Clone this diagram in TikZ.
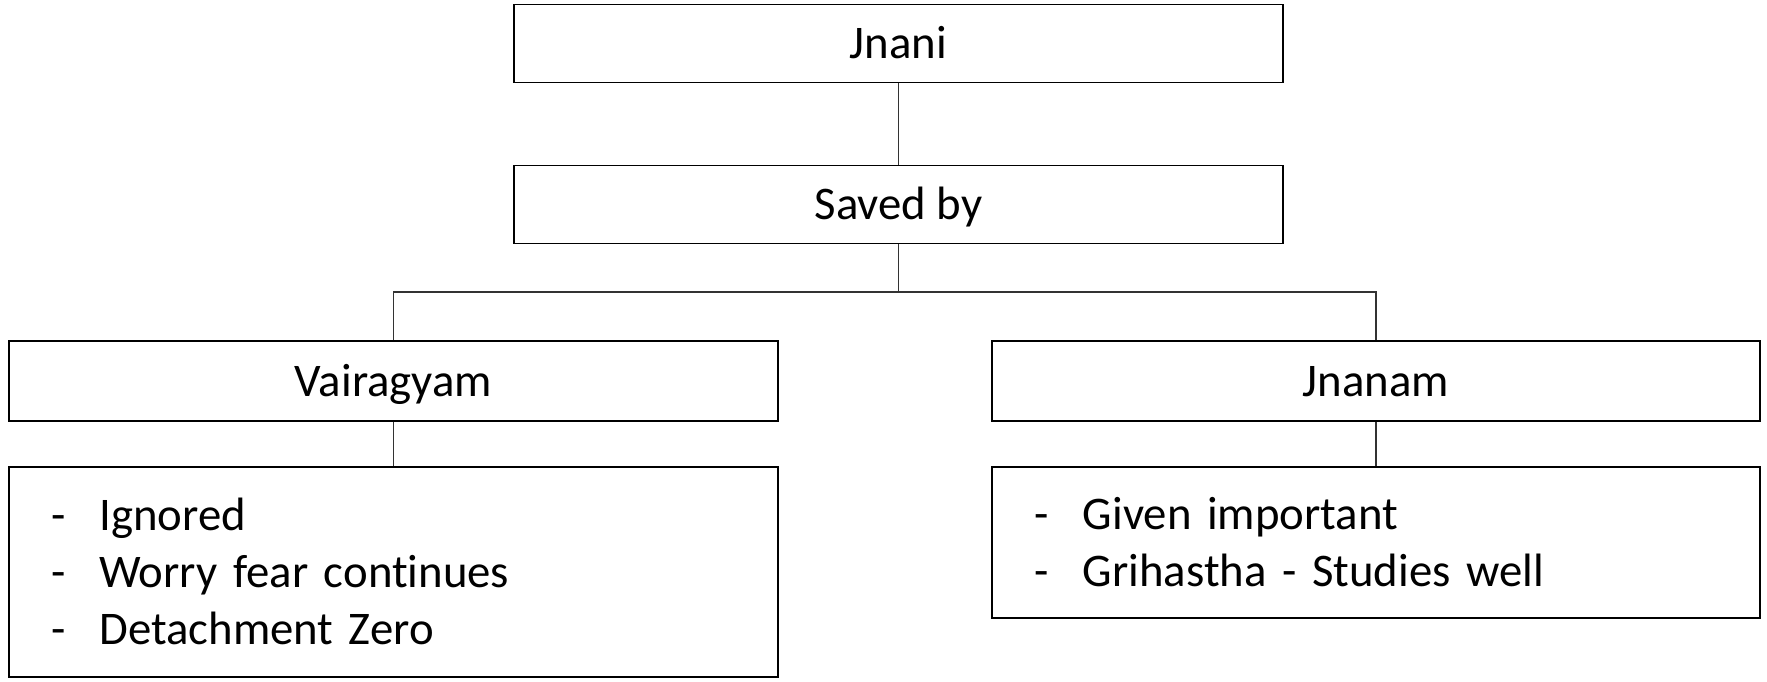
\documentclass[tikz,border=0pt]{standalone}
\usepackage{fontspec}
\setmainfont[Ligatures=NoCommon]{Carlito}
\usetikzlibrary{positioning,calc}
\newcommand{\itm}[1]{\makebox[0.48cm][l]{-}#1}
\begin{document}
\begin{tikzpicture}[x=0.01cm, y=-0.01cm,
    headbox/.style={draw=black, line width=0.5pt, minimum width=7.68cm,
      minimum height=0.78cm, inner sep=0pt, font=\fontsize{13.3}{16.2}\selectfont,
      text height=8.6pt, text depth=0pt},
    listbox/.style={draw=black, line width=0.5pt, text width=7.68cm,
      align=left, inner xsep=0pt, inner ysep=0pt, font=\fontsize{13.3}{16.2}\selectfont,
      text height=8.6pt},
    link/.style={draw=black!80, line width=0.45pt}]
  \useasboundingbox (0,0) rectangle (1767,681);
  \node[headbox] (jnani) at (898.5,43.5) {Jnani};
  \node[headbox] (saved) at (898.5,204.5) {Saved by};
  \node[headbox, minimum height=0.80cm] (vair) at (393.5,381) {Vairagyam};
  \node[headbox, minimum height=0.80cm] (jnanam) at (1376,381) {Jnanam};
  \node[listbox, minimum height=2.10cm, text depth=32.4pt] (vlist) at (393.5,572)
    {\hspace*{0.42cm}\itm{Ignored}\\\hspace*{0.42cm}\itm{Worry fear continues}\\\hspace*{0.42cm}\itm{Detachment Zero}};
  \node[listbox, minimum height=1.51cm, text depth=16.2pt] (jlist) at (1376,542.5)
    {\hspace*{0.43cm}\itm{Given important}\\\hspace*{0.43cm}\itm{Grihastha - Studies well}};
  % connectors
  \coordinate (bus) at ($(saved.south)!0.5!(saved.south |- vair.north)$);
  \draw[link] (jnani.south) -- (saved.north);
  \draw[link] (saved.south) -- (bus);
  \draw[link] (vair.north) |- (bus) -| (jnanam.north);
  \draw[link] (vair.south) -- (vlist.north);
  \draw[link] (jnanam.south) -- (jlist.north);
\end{tikzpicture}
\end{document}
